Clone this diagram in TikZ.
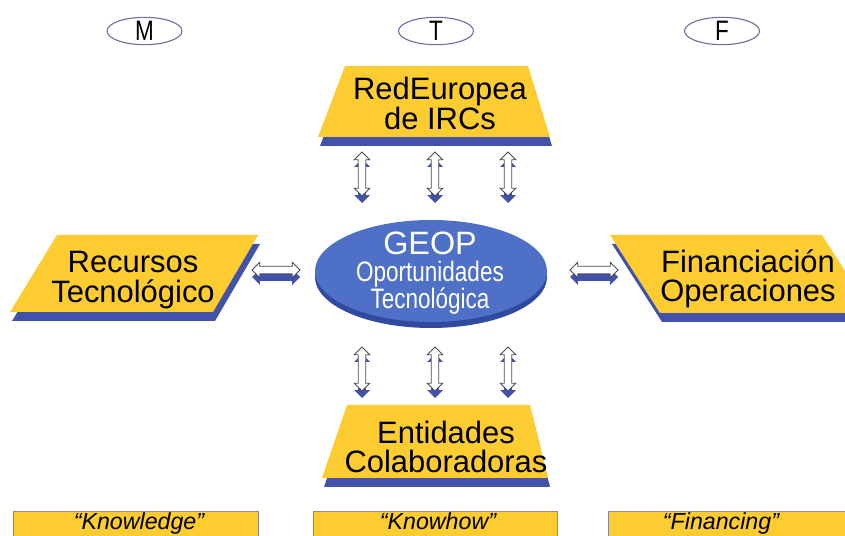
\documentclass[tikz,border=0pt]{standalone}
\usepackage{fontspec}
\setmainfont{Liberation Sans}
\newfontfamily\narrowsans[FakeStretch=0.8]{Liberation Sans}
\usetikzlibrary{shapes.geometric, shapes.arrows, shadows}

\definecolor{geYellow}{RGB}{252,204,48}
\definecolor{geStrip}{RGB}{66,82,170}
\definecolor{geHub}{RGB}{78,112,198}
\definecolor{geHubRim}{RGB}{48,74,160}
\definecolor{geOvalLine}{RGB}{110,112,165}
\definecolor{geArrowLine}{RGB}{75,75,85}
\definecolor{geFootLine}{RGB}{140,140,140}

\begin{document}
\begin{tikzpicture}[x=1cm, y=1cm,
    letteroval/.style={ellipse, draw=geOvalLine, fill=white, line width=1.6pt,
        minimum width=3.75cm, minimum height=1.35cm, inner sep=0pt,
        font=\narrowsans\fontsize{40}{40}\selectfont},
    yellowshape/.style={fill=geYellow,
        general shadow={fill=geStrip, shadow xshift=0.1cm, shadow yshift=-0.45cm}},
    boxlabel/.style={align=center, font=\fontsize{44}{42}\selectfont},
    hubface/.style={ellipse, fill=geHub, inner sep=0pt,
        minimum width=11.6cm, minimum height=5.1cm,
        general shadow={fill=geHubRim, shadow yshift=-0.3cm}},
    hubtext/.style={align=center, text=white, font=\fontsize{40}{38}\selectfont,
        execute at begin node={\lineskiplimit=-100pt\relax}},
    linkarrow/.style={double arrow, fill=white, draw=geArrowLine, line width=1.2pt,
        minimum height=2.2cm, inner sep=0.17cm, double arrow head extend=0.2cm,
        general shadow={fill=geStrip, shadow yshift=-0.35cm}},
    footbox/.style={fill=geYellow, draw=geFootLine, line width=1.2pt},
    footlabel/.style={anchor=base, font=\itshape\fontsize{33}{33}\selectfont}]
\useasboundingbox (0,0) rectangle (42.25,26.75);
%% ── Column letters ───────────────────────────────────────────────────────
\node[letteroval] (colM) at (7.225,25.2) {M};
\node[letteroval] (colT) at (21.8,25.2) {T};
\node[letteroval] (colF) at (36.1,25.2) {F};
%% ── Yellow shapes ────────────────────────────────────────────────────────
\fill[yellowshape] (17.25,23.45) -- (26.4,23.45) -- (27.5,19.9) -- (15.9,19.9) -- cycle;
\fill[yellowshape] (2.85,15.0) -- (12.9,15.0) -- (10.65,11.15) -- (0.5,11.15) -- cycle;
\fill[yellowshape] (30.5,15.0) -- (41.1,15.0) -- (43.6,11.1) -- (33.0,11.1) -- cycle;
\fill[yellowshape] (17.35,6.5) -- (26.5,6.5) -- (27.4,2.85) -- (16.1,2.85) -- cycle;
%% ── Box labels ───────────────────────────────────────────────────────────
\node[boxlabel] (redeu) at (22.0,21.57) {RedEuropea\\de IRCs};
\node[boxlabel] (recursos) at (6.65,12.75) {Recursos\\Tecnológico};
\node[boxlabel] (financ) at (37.4,12.8) {Financiación\\Operaciones};
\node[boxlabel] (entid) at (22.3,4.41) {Entidades\\Colaboradoras};
%% ── Central GEOP ellipse ─────────────────────────────────────────────────
\node[hubface] (geop) at (21.55,13.2) {};
\node[hubtext] (geoptext) at (21.5,13.1)
    {{\fontsize{46}{46}\selectfont GEOP}\\{\narrowsans Oportunidades}\\[1pt]{\narrowsans Tecnológica}};
%% ── Block arrows ─────────────────────────────────────────────────────────
\node[linkarrow, shape border rotate=90] (upL) at (18.1,18.05) {};
\node[linkarrow, shape border rotate=90] (upC) at (21.75,18.05) {};
\node[linkarrow, shape border rotate=90] (upR) at (25.4,18.05) {};
\node[linkarrow, shape border rotate=90] (dnL) at (18.1,8.3) {};
\node[linkarrow, shape border rotate=90] (dnC) at (21.75,8.3) {};
\node[linkarrow, shape border rotate=90] (dnR) at (25.4,8.3) {};
\node[linkarrow, minimum height=2.4cm] (lfA) at (13.8,13.25) {};
\node[linkarrow, minimum height=2.4cm] (rtA) at (29.7,13.25) {};
%% ── Footer boxes ─────────────────────────────────────────────────────────
\draw[footbox] (0.65,1.2) rectangle (12.9,-1);
\draw[footbox] (15.65,1.2) rectangle (27.85,-1);
\draw[footbox] (30.4,1.2) rectangle (42.6,-1);
\node[footlabel] (knowledge) at (6.95,0.3) {“Knowledge”};
\node[footlabel] (knowhow) at (21.9,0.3) {“Knowhow”};
\node[footlabel] (financing) at (36.05,0.3) {“Financing”};
\end{tikzpicture}
\end{document}
